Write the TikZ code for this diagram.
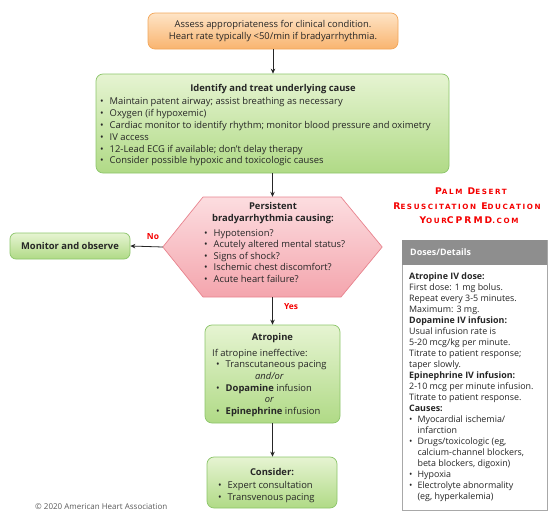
\documentclass[tikz,border=0pt]{standalone}
\usepackage{fontspec}
\setmainfont{Open Sans}
\newfontfamily\cpfont[LetterSpace=22]{DejaVu Sans}
\usetikzlibrary{arrows.meta}
\definecolor{orTop}{HTML}{FEE4C6}
\definecolor{orBot}{HTML}{F9B46F}
\definecolor{orBd}{HTML}{F2A65A}
\definecolor{grTop}{HTML}{E6F4D2}
\definecolor{grBot}{HTML}{B0DA86}
\definecolor{grBd}{HTML}{8CC56A}
\definecolor{pkTop}{HTML}{FCDDE0}
\definecolor{pkBot}{HTML}{F4A5AD}
\definecolor{pkBd}{HTML}{E8838E}
\definecolor{hdr}{HTML}{8E8E8E}
\definecolor{bxBd}{HTML}{A8A8A8}
\definecolor{txt}{HTML}{262626}
\definecolor{wmred}{HTML}{F40000}
\newcommand\bodyfont{\fontsize{9.4}{11.8}\selectfont}
\newcommand\dosefont{\fontsize{8.9}{11}\selectfont}
\newcommand\mcl[1]{\multicolumn{2}{@{}l@{}}{#1}}
\newcommand\smc[1]{{\fontsize{7.2}{7}\selectfont #1}}
\begin{document}
\begin{tikzpicture}[x=1pt,y=-1pt,
  box/.style={rounded corners=7pt, draw, line width=0.7pt, inner sep=0pt},
  orbox/.style={box, draw=orBd, top color=orTop, bottom color=orBot},
  grbox/.style={box, draw=grBd, top color=grTop, bottom color=grBot},
  txtnode/.style={inner sep=0pt, text=txt, font=\bodyfont},
  arr/.style={-{Stealth[length=5pt,width=4.5pt]}, line width=0.8pt, draw=black!85},
  lbl/.style={inner sep=0pt, text=wmred, font=\bfseries\fontsize{8.4}{9}\selectfont},
  wm/.style={inner sep=0pt, text=wmred, font=\cpfont\bfseries\fontsize{9.2}{9}\selectfont}]
\useasboundingbox (0,0) rectangle (560,530);

% top box
\node[orbox, minimum width=250pt, minimum height=36pt] (top) at (273,31) {};
\node[txtnode, align=center] (toptxt) at (273,31)
  {Assess appropriateness for clinical condition.\\Heart rate typically <50/min if bradyarrhythmia.};

% identify box
\node[grbox, minimum width=353pt, minimum height=99pt] (g1) at (272.5,123.5) {};
\node[txtnode, font=\bodyfont\bfseries] (g1t) at (273,89) {Identify and treat underlying cause};
\node[txtnode, anchor=west] (g1b) at (100,132) {\begin{tabular}{@{}l@{\hspace{6pt}}l@{}}
\textbullet & Maintain patent airway; assist breathing as necessary\\
\textbullet & Oxygen (if hypoxemic)\\
\textbullet & Cardiac monitor to identify rhythm; monitor blood pressure and oximetry\\
\textbullet & IV access\\
\textbullet & 12-Lead ECG if available; don't delay therapy\\
\textbullet & Consider possible hypoxic and toxicologic causes
\end{tabular}};

% hexagon
\node[inner sep=0pt, minimum width=219pt, minimum height=100pt] (hex) at (272.5,247) {};
\path[draw=pkBd, line width=0.7pt, top color=pkTop, bottom color=pkBot]
  (hex.west) -- (203,197) -- (341,197) -- (hex.east) -- (341,297) -- (203,297) -- cycle;
\node[txtnode, align=center, font=\bodyfont\bfseries] (hext) at (273,213)
  {Persistent\\bradyarrhythmia causing:};
\node[txtnode, anchor=west, font=\fontsize{9.4}{11.6}\selectfont] (hexb) at (204,257) {\begin{tabular}{@{}l@{\hspace{6pt}}l@{}}
\textbullet & Hypotension?\\
\textbullet & Acutely altered mental status?\\
\textbullet & Signs of shock?\\
\textbullet & Ischemic chest discomfort?\\
\textbullet & Acute heart failure?
\end{tabular}};

% monitor
\node[grbox, rounded corners=6pt, minimum width=120pt, minimum height=26pt] (mon) at (70,246) {};
\node[txtnode, font=\bodyfont\bfseries] (mont) at (70,246) {Monitor and observe};

% atropine
\node[grbox, minimum width=135pt, minimum height=98pt] (atr) at (272.5,374) {};
\node[txtnode, font=\bodyfont\bfseries] (atrt) at (272.5,338) {Atropine};
\node[txtnode, anchor=west, font=\fontsize{9.4}{11.6}\selectfont] (atrb) at (212,383) {\begin{tabular}{@{\hspace{4pt}}l@{\hspace{6pt}}l@{}}
\mcl{If atropine ineffective:}\\
\textbullet & Transcutaneous pacing\\
\multicolumn{2}{c}{\itshape and/or}\\
\textbullet & \textbf{Dopamine} infusion\\
\multicolumn{2}{c}{\itshape or}\\
\textbullet & \textbf{Epinephrine} infusion
\end{tabular}};

% consider
\node[grbox, minimum width=130pt, minimum height=51pt] (con) at (272,482.5) {};
\node[txtnode, font=\bodyfont\bfseries] (cont) at (272,472) {Consider:};
\node[txtnode, anchor=west, font=\fontsize{9.4}{12}\selectfont] (conb) at (218,492) {\begin{tabular}{@{}l@{\hspace{6pt}}l@{}}
\textbullet & Expert consultation\\
\textbullet & Transvenous pacing
\end{tabular}};

% arrows
\draw[arr] (top.south) -- (top.south |- g1.north);
\draw[arr] (g1.south) -- (g1.south |- hex.north);
\draw[arr] (hex.west) -- (mon.east);
\draw[arr] (hex.south) -- (hex.south |- atr.north);
\draw[arr] (atr.south) -- (atr.south |- con.north);
\node[lbl] (no) at (153,237) {No};
\node[lbl] (yes) at (291,307) {Yes};

% watermark
\node[wm] (wm1) at (471,191) {P\smc{ALM} D\smc{ESERT}};
\node[wm] (wm2) at (467,206) {R\smc{ESUSCITATION} E\smc{DUCATION}};
\node[wm] (wm3) at (469,220) {Y\smc{OUR}CPRMD\smc{.COM}};

% doses box
\node[draw=bxBd, line width=0.8pt, fill=white, minimum width=145pt, minimum height=270pt, inner sep=0pt] (dose) at (474.5,375) {};
\fill[hdr] (dose.north west) rectangle (547,265);
\node[inner sep=0pt, anchor=west, text=white, font=\dosefont\bfseries] (doseh) at (410,252) {Doses/Details};
\node[txtnode, anchor=west, font=\dosefont] (doseb) at (409,387) {\begin{tabular}{@{}l@{\hspace{5pt}}l@{}}
\mcl{\bfseries Atropine IV dose:}\\
\mcl{First dose: 1 mg bolus.}\\
\mcl{Repeat every 3-5 minutes.}\\
\mcl{Maximum: 3 mg.}\\
\mcl{\bfseries Dopamine IV infusion:}\\
\mcl{Usual infusion rate is}\\
\mcl{5-20 mcg/kg per minute.}\\
\mcl{Titrate to patient response;}\\
\mcl{taper slowly.}\\
\mcl{\bfseries Epinephrine IV infusion:}\\
\mcl{2-10 mcg per minute infusion.}\\
\mcl{Titrate to patient response.}\\
\mcl{\bfseries Causes:}\\
\textbullet & Myocardial ischemia/\\
 & infarction\\
\textbullet & Drugs/toxicologic (eg,\\
 & calcium-channel blockers,\\
 & beta blockers, digoxin)\\
\textbullet & Hypoxia\\
\textbullet & Electrolyte abnormality\\
 & (eg, hyperkalemia)
\end{tabular}};

% copyright
\node[inner sep=0pt, anchor=west, text=black!65, font=\fontsize{8}{9}\selectfont] (copy) at (35,507) {© 2020 American Heart Association};
\end{tikzpicture}
\end{document}
